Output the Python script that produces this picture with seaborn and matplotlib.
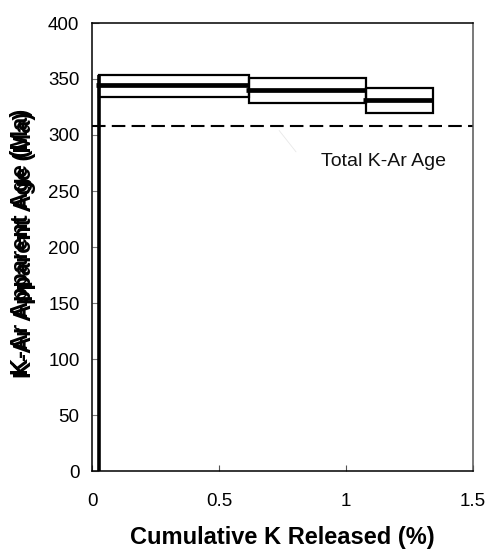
import matplotlib
matplotlib.use("Agg")
import matplotlib.pyplot as plt
from matplotlib.patches import Rectangle
import seaborn as sns
import pandas as pd

# Data
step_edges = [0.028, 0.618, 1.078, 1.341]      # cumulative K released (%)
step_age = [344.6, 340.2, 331.5]                # apparent age (Ma)
step_upper = [353.3, 350.6, 341.7]
step_lower = [334.2, 328.3, 319.9]
total_age = 308.0
x_ticks = [0, 0.5, 1, 1.5]
y_ticks = [0, 50, 100, 150, 200, 250, 300, 350, 400]

sns.set_theme(style="white")
plt.rcParams['font.family'] = ['Liberation Sans', 'DejaVu Sans']

W, H = 491, 551
fig = plt.figure(figsize=(W / 100, H / 100), dpi=100)
L, R, T, B = 92, 473, 23, 471
ax = fig.add_axes([L / W, 1 - B / H, (R - L) / W, (B - T) / H])

# first step vertical line from 0
vline = pd.DataFrame({"x": [step_edges[0], step_edges[0]], "y": [0, step_upper[0]]})
sns.lineplot(data=vline, x="x", y="y", ax=ax, color="black", lw=2.6,
             sort=False, estimator=None, solid_capstyle="butt")

for i in range(len(step_age)):
    x0, x1 = step_edges[i], step_edges[i + 1]
    ax.add_patch(Rectangle((x0, step_lower[i]), x1 - x0, step_upper[i] - step_lower[i],
                           fill=False, edgecolor="black", lw=1.6, zorder=3))
    seg = pd.DataFrame({"x": [x0 - 0.012, x1], "y": [step_age[i], step_age[i]]})
    sns.lineplot(data=seg, x="x", y="y", ax=ax, color="black", lw=3.4,
                 sort=False, estimator=None, zorder=4, solid_capstyle="butt")

dash = pd.DataFrame({"x": [0, 1.5], "y": [total_age, total_age]})
sns.lineplot(data=dash, x="x", y="y", ax=ax, color="black", lw=1.5,
             dashes=False, estimator=None)
ax.lines[-1].set_dashes((6.5, 3.0))
ax.lines[-1].set_dash_capstyle("butt")

ax.annotate("", xy=(0.73, total_age - 2), xytext=(0.81, 283),
            arrowprops=dict(arrowstyle="-", color="#e8e8e8", lw=0.6))
ax.text(1.146, 276, "Total K-Ar Age", ha="center", va="center", fontsize=14, color="#111111")

ax.set_xlim(0, 1.5)
ax.set_ylim(0, 400)
ax.set_xticks(x_ticks)
ax.set_xticklabels(["0", "0.5", "1", "1.5"])
ax.set_yticks(y_ticks)
ax.set_yticklabels([str(v) for v in y_ticks])
ax.tick_params(axis="x", direction="in", length=4, width=0.8, color="#555555",
               labelsize=13.5, pad=16, labelcolor="black", bottom=True)
ax.tick_params(axis="y", direction="in", length=5, width=0.8, color="#777777",
               labelsize=13.5, pad=9, labelcolor="black", left=True)
for s in ax.spines.values():
    s.set_color("black")
    s.set_linewidth(1.1)
ax.spines["right"].set_color("#555555")

ax.set_xlabel("Cumulative K Released (%)", fontsize=17, fontweight="bold", color="black")
ax.xaxis.set_label_coords(0.5, (B - 526) / (B - T))
ax.set_ylabel("")

# doubled y label (as in the reference)
ylab = "K-Ar Apparent Age (Ma)"
fig.text(25 / W, 1 - 245 / H, ylab, rotation=90, ha="center", va="center",
         fontsize=17, fontweight="bold", color="black")
fig.text(22 / W, 1 - 242 / H, ylab, rotation=90, ha="center", va="center",
         fontsize=17, fontweight="bold", color="black")

fig.savefig("out.png", dpi=100)
